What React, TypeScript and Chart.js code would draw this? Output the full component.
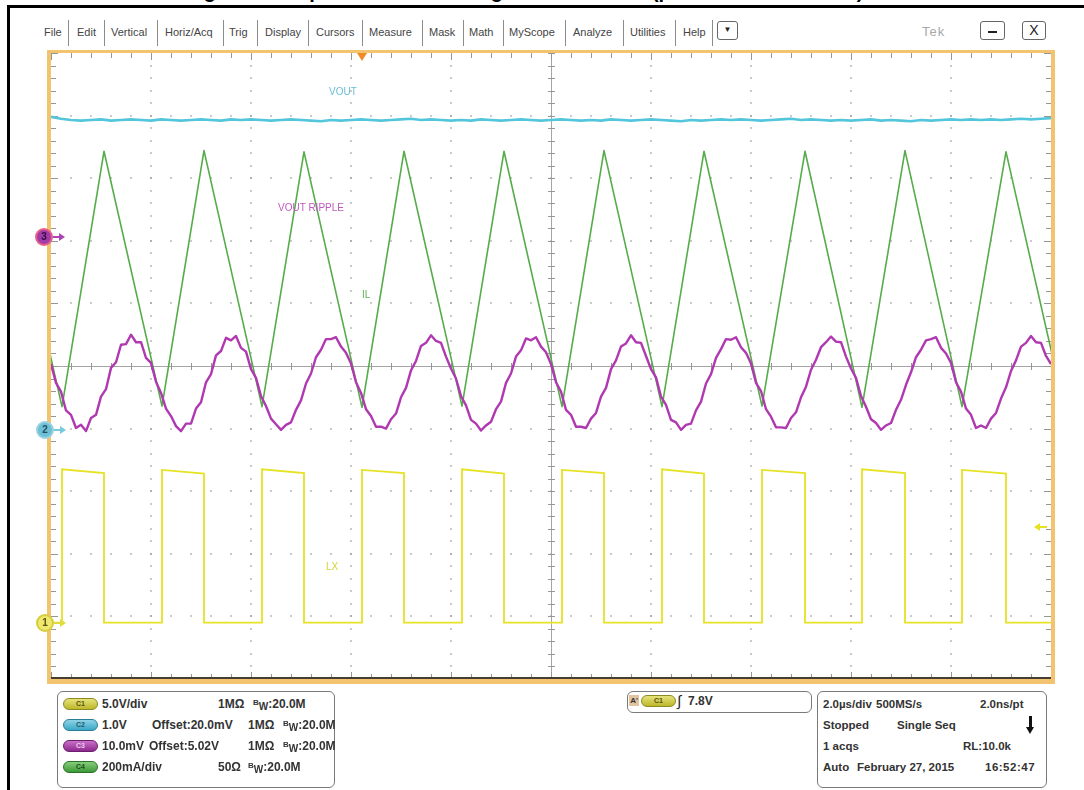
import React, { useEffect, useRef } from "react";
import { Chart, registerables } from "chart.js";

Chart.register(...registerables);

// ---------- axes (time in µs, 2 µs/div; vertical in graticule divisions) ----------
const TIME_MIN_US = -10;
const TIME_MAX_US = 10;
const DIV_MIN = -5;
const DIV_MAX = 5;

// ---------- IL (C4, 200 mA/div): triangle vertices ----------
const ilPeakTimes = [-10.94, -8.94, -6.94, -4.94, -2.94, -0.94, 1.06, 3.06, 5.08, 7.08, 9.1];
const ilPeakLevels = [3.43, 3.43, 3.44, 3.42, 3.43, 3.43, 3.44, 3.43, 3.43, 3.44, 3.42];
const ilValleyTimes = [-9.78, -7.78, -5.78, -3.78, -1.78, 0.22, 2.22, 4.22, 6.22, 8.22, 10.26];
const ilValleyLevels = [-0.65, -0.64, -0.65, -0.66, -0.64, -0.65, -0.65, -0.64, -0.66, -0.65, -0.65];

// ---------- LX (C1, 5 V/div): switching node edges ----------
const lxRiseTimes = [-9.78, -7.78, -5.78, -3.78, -1.78, 0.22, 2.22, 4.22, 6.22, 8.22];
const lxFallTimes = [-8.94, -6.94, -4.94, -2.94, -0.94, 1.06, 3.06, 5.08, 7.08, 9.1];
const lxHighStart = [-1.65, -1.66, -1.65, -1.66, -1.65, -1.66, -1.65, -1.66, -1.65, -1.66];
const lxHighEnd = [-1.71, -1.72, -1.71, -1.71, -1.72, -1.71, -1.72, -1.71, -1.71, -1.72];
const lxLowLevel = -4.1;

// ---------- VOUT (C2, 1.0 V/div): samples every 0.2 µs ----------
const VOUT_STEP_US = 0.2;
const vOutLevels = [
  3.98, 3.95, 3.93, 3.92, 3.93, 3.94, 3.92, 3.93, 3.94, 3.93,
  3.92, 3.94, 3.93, 3.92, 3.93, 3.94, 3.93, 3.92, 3.94, 3.93,
  3.94, 3.93, 3.92, 3.93, 3.94, 3.93, 3.92, 3.91, 3.93, 3.92,
  3.93, 3.94, 3.93, 3.92, 3.93, 3.94, 3.95, 3.93, 3.94, 3.93,
  3.92, 3.93, 3.92, 3.94, 3.93, 3.92, 3.93, 3.94, 3.93, 3.92,
  3.93, 3.94, 3.93, 3.92, 3.93, 3.92, 3.94, 3.93, 3.92, 3.93,
  3.94, 3.93, 3.92, 3.91, 3.93, 3.92, 3.93, 3.94, 3.93, 3.94,
  3.93, 3.92, 3.93, 3.94, 3.95, 3.93, 3.94, 3.93, 3.92, 3.93,
  3.92, 3.93, 3.94, 3.92, 3.93, 3.92, 3.91, 3.93, 3.92, 3.93,
  3.94, 3.93, 3.94, 3.93, 3.94, 3.93, 3.94, 3.95, 3.94, 3.95,
  3.96,
];

// ---------- VOUT RIPPLE (C3, 10 mV/div, offset 5.02 V): samples every 0.1 µs ----------
const RIPPLE_STEP_US = 0.1;
const rippleLevels = [
  0.03, -0.27, -0.41, -0.71, -0.78, -0.99, -0.94, -1.04, -0.83, -0.78, -0.49, -0.37, -0.03, 0.06, 0.34, 0.35, 0.5, 0.38, 0.38, 0.13,
  0.05, -0.25, -0.43, -0.68, -0.8, -0.96, -1.04, -0.92, -0.92, -0.68, -0.58, -0.26, -0.13, 0.17, 0.24, 0.45, 0.41, 0.48, 0.29, 0.23,
  -0.05, -0.19, -0.48, -0.64, -0.84, -0.93, -1.02, -0.94, -0.9, -0.7, -0.55, -0.28, -0.12, 0.14, 0.26, 0.43, 0.43, 0.46, 0.31, 0.21,
  0.04, -0.26, -0.43, -0.69, -0.8, -0.97, -0.97, -1.0, -0.85, -0.76, -0.5, -0.35, -0.07, 0.08, 0.32, 0.37, 0.49, 0.4, 0.37, 0.15,
  -0.04, -0.2, -0.48, -0.63, -0.86, -0.92, -1.03, -0.95, -0.89, -0.69, -0.57, -0.27, -0.12, 0.15, 0.25, 0.44, 0.41, 0.46, 0.31, 0.22,
  0.03, -0.26, -0.41, -0.7, -0.78, -0.97, -0.97, -0.99, -0.84, -0.75, -0.49, -0.35, -0.05, 0.09, 0.31, 0.36, 0.49, 0.38, 0.37, 0.16,
  -0.05, -0.18, -0.49, -0.62, -0.86, -0.9, -1.02, -0.94, -0.92, -0.71, -0.57, -0.28, -0.13, 0.13, 0.27, 0.43, 0.42, 0.46, 0.3, 0.21,
  0.04, -0.27, -0.4, -0.69, -0.81, -0.98, -0.98, -0.99, -0.83, -0.74, -0.5, -0.33, -0.06, 0.1, 0.3, 0.38, 0.47, 0.39, 0.38, 0.15,
  -0.04, -0.19, -0.48, -0.65, -0.85, -0.91, -1.02, -0.95, -0.91, -0.7, -0.54, -0.3, -0.1, 0.14, 0.26, 0.41, 0.43, 0.46, 0.29, 0.2,
  0.05, -0.26, -0.41, -0.68, -0.78, -0.99, -0.95, -0.99, -0.84, -0.75, -0.52, -0.34, -0.08, 0.09, 0.31, 0.37, 0.48, 0.38, 0.37, 0.16,
  0.03,
];

// ---------- text content ----------
const menuItems = ["File", "Edit", "Vertical", "Horiz/Acq", "Trig", "Display", "Cursors", "Measure", "Mask", "Math", "MyScope", "Analyze", "Utilities", "Help"];
const menuItemX = [44, 77, 111, 165, 229, 265, 316, 369, 429, 469, 509, 573, 630, 683];
const menuSeparatorX = [68, 104, 157, 223, 257, 308, 362, 422, 463, 503, 565, 623, 675, 712];

const channelRows = [
  { tag: "C1", a: "5.0V/div", b: "", c: "1MΩ", d: "20.0M", bx: 0, cx: 218, dx: 253 },
  { tag: "C2", a: "1.0V", b: "Offset:20.0mV", c: "1MΩ", d: "20.0M", bx: 152, cx: 248, dx: 283 },
  { tag: "C3", a: "10.0mV", b: "Offset:5.02V", c: "1MΩ", d: "20.0M", bx: 149, cx: 248, dx: 283 },
  { tag: "C4", a: "200mA/div", b: "", c: "50Ω", d: "20.0M", bx: 0, cx: 218, dx: 248 },
];

// ---------- colours ----------
const COL_C1 = "rgb(230,226,36)";
const COL_C2 = "rgb(84,198,220)";
const COL_C3 = "rgb(176,56,176)";
const COL_C4 = "rgb(86,172,74)";

const graticulePlugin = {
  id: "graticule",
  beforeDatasetsDraw(chart: any) {
    const { ctx, chartArea } = chart;
    const { left, top, right, bottom } = chartArea;
    const w = right - left;
    const h = bottom - top;
    const dx = w / 10;
    const dy = h / 10;
    const cx = left + w / 2;
    const cy = top + h / 2;
    ctx.save();
    ctx.fillStyle = "#ffffff";
    ctx.fillRect(left, top, w, h);
    // dotted graticule
    ctx.fillStyle = "rgba(150,150,150,0.5)";
    for (let i = 1; i < 10; i++) {
      if (i === 5) continue;
      const x = Math.round(left + i * dx);
      for (let k = 1; k < 50; k++) {
        const y = Math.round(top + (k * dy) / 5);
        ctx.fillRect(x - 1, y - 1, 2, 2);
      }
      const y0 = Math.round(top + i * dy);
      for (let k = 1; k < 50; k++) {
        const xx = Math.round(left + (k * dx) / 5);
        ctx.fillRect(xx - 1, y0 - 1, 2, 2);
      }
    }
    // center cross
    ctx.strokeStyle = "rgb(165,165,165)";
    ctx.lineWidth = 1;
    ctx.beginPath();
    ctx.moveTo(left, Math.round(cy) + 0.5);
    ctx.lineTo(right, Math.round(cy) + 0.5);
    ctx.moveTo(Math.round(cx) + 0.5, top);
    ctx.lineTo(Math.round(cx) + 0.5, bottom);
    ctx.stroke();
    ctx.strokeStyle = "rgb(150,150,150)";
    ctx.beginPath();
    for (let k = 0; k <= 50; k++) {
      const x = Math.round(left + (k * dx) / 5) + 0.5;
      const major = k % 5 === 0;
      ctx.moveTo(x, cy - 3);
      ctx.lineTo(x, cy + 4);
      ctx.moveTo(x, top);
      ctx.lineTo(x, top + (major ? 7 : 5));
      ctx.moveTo(x, bottom);
      ctx.lineTo(x, bottom - (major ? 7 : 5));
    }
    for (let k = 0; k <= 50; k++) {
      const y = Math.round(top + (k * dy) / 5) + 0.5;
      const major = k % 5 === 0;
      ctx.moveTo(cx - 3, y);
      ctx.lineTo(cx + 4, y);
      ctx.moveTo(left, y);
      ctx.lineTo(left + (major ? 7 : 5), y);
      ctx.moveTo(right, y);
      ctx.lineTo(right - (major ? 7 : 5), y);
    }
    ctx.stroke();
    // dark bottom edge
    ctx.fillStyle = "rgb(70,62,50)";
    ctx.fillRect(left, bottom - 2, w, 2);
    ctx.restore();
  },
};

function buildIl() {
  const pts: { x: number; y: number }[] = [];
  for (let i = 0; i < ilPeakTimes.length; i++) {
    pts.push({ x: ilPeakTimes[i], y: ilPeakLevels[i] });
    pts.push({ x: ilValleyTimes[i], y: ilValleyLevels[i] });
  }
  return pts;
}

function buildLx() {
  const pts: { x: number; y: number }[] = [{ x: TIME_MIN_US, y: lxLowLevel }];
  for (let i = 0; i < lxRiseTimes.length; i++) {
    pts.push({ x: lxRiseTimes[i], y: lxLowLevel });
    pts.push({ x: lxRiseTimes[i], y: lxHighStart[i] });
    pts.push({ x: lxFallTimes[i], y: lxHighEnd[i] });
    pts.push({ x: lxFallTimes[i], y: lxLowLevel });
  }
  pts.push({ x: TIME_MAX_US, y: lxLowLevel });
  return pts;
}

function buildSampled(levels: number[], step: number) {
  return levels.map((v, i) => ({ x: TIME_MIN_US + i * step, y: v }));
}

function ScopeCanvas() {
  const ref = useRef<HTMLCanvasElement | null>(null);
  useEffect(() => {
    const canvas = ref.current;
    if (!canvas) return;
    const common = { pointRadius: 0, tension: 0, fill: false, borderJoinStyle: "round" as const };
    const chart = new Chart(canvas, {
      type: "line",
      data: {
        datasets: [
          { label: "LX", data: buildLx(), borderColor: COL_C1, borderWidth: 1.8, order: 1, ...common, borderJoinStyle: "miter" as const },
          { label: "VOUT RIPPLE", data: buildSampled(rippleLevels, RIPPLE_STEP_US), borderColor: COL_C3, borderWidth: 2.4, order: 2, ...common },
          { label: "IL", data: buildIl(), borderColor: COL_C4, borderWidth: 1.6, order: 3, ...common },
          { label: "VOUT", data: buildSampled(vOutLevels, VOUT_STEP_US), borderColor: COL_C2, borderWidth: 2.6, order: 4, ...common },
        ],
      },
      options: {
        animation: false,
        responsive: false,
        maintainAspectRatio: false,
        devicePixelRatio: 1,
        layout: { padding: 0 },
        plugins: { legend: { display: false }, tooltip: { enabled: false } },
        events: [],
        scales: {
          x: { type: "linear", min: TIME_MIN_US, max: TIME_MAX_US, display: false },
          y: { type: "linear", min: DIV_MIN, max: DIV_MAX, display: false },
        },
      },
      plugins: [graticulePlugin],
    });
    return () => chart.destroy();
  }, []);
  return (
    <canvas
      ref={ref}
      width={1000}
      height={626}
      style={{ position: "absolute", left: 51, top: 53, width: 1000, height: 626 }}
    />
  );
}

const abs = (x: number, y: number, extra: React.CSSProperties = {}): React.CSSProperties => ({
  position: "absolute",
  left: x,
  top: y,
  ...extra,
});

function ChannelMarker({ n, x, y, fill, ring, text, arrow }: { n: string; x: number; y: number; fill: string; ring: string; text: string; arrow: string }) {
  return (
    <>
      <div
        style={abs(x - 9, y - 9, {
          width: 18,
          height: 18,
          borderRadius: "50%",
          background: fill,
          boxSizing: "border-box",
          border: `2px solid ${ring}`,
          color: text,
          fontSize: 10,
          fontWeight: "bold",
          lineHeight: "14px",
          textAlign: "center",
          zIndex: 3,
        })}
      >
        {n}
      </div>
      <div style={abs(x + 9, y - 1, { width: 7, height: 2, background: arrow, zIndex: 3 })} />
      <div
        style={abs(x + 15, y - 4, {
          width: 0,
          height: 0,
          borderTop: "4px solid transparent",
          borderBottom: "4px solid transparent",
          borderLeft: `6px solid ${arrow}`,
          zIndex: 3,
        })}
      />
    </>
  );
}

function Pill({ tag, x, y, bg, border, color }: { tag: string; x: number; y: number; bg: string; border: string; color: string }) {
  return (
    <div
      style={abs(x, y - 6, {
        width: 35,
        height: 12,
        boxSizing: "border-box",
        borderRadius: 6,
        background: bg,
        border: `1px solid ${border}`,
        color,
        fontSize: 7,
        fontWeight: "bold",
        lineHeight: "10px",
        textAlign: "center",
      })}
    >
      {tag}
    </div>
  );
}

const pillStyles: Record<string, { bg: string; border: string; color: string }> = {
  C1: { bg: "linear-gradient(#e6e27a,#bdb82a)", border: "#8d8a20", color: "#55520a" },
  C2: { bg: "linear-gradient(#8fd3e6,#3aa7c6)", border: "#2a7d96", color: "#1f5b6d" },
  C3: { bg: "linear-gradient(#c970c9,#8e2a8e)", border: "#6d1d6d", color: "#f0c8f0" },
  C4: { bg: "linear-gradient(#86cc7a,#3d9a38)", border: "#2c7329", color: "#1d4d1b" },
};

function Txt({ x, y, children, size = 12, bold = true, color = "#333", spacing = 0 }: { x: number; y: number; children: React.ReactNode; size?: number; bold?: boolean; color?: string; spacing?: number }) {
  return (
    <div
      style={abs(x, y - 7, {
        fontSize: size,
        fontWeight: bold ? "bold" : "normal",
        color,
        lineHeight: "14px",
        whiteSpace: "nowrap",
        letterSpacing: spacing,
      })}
    >
      {children}
    </div>
  );
}

function Bw({ value }: { value: string }) {
  return (
    <span>
      <span style={{ fontSize: 8, position: "relative", top: -3 }}>B</span>
      <span style={{ fontSize: 10, position: "relative", top: 2 }}>W</span>:{value}
    </span>
  );
}

export default function App() {
  const rowY = [704, 725, 746, 767];
  return (
    <div
      style={{
        position: "fixed",
        left: 0,
        top: 0,
        width: 1084,
        height: 790,
        background: "#ffffff",
        overflow: "hidden",
        fontFamily: "'Liberation Sans', Arial, sans-serif",
      }}
    >
      {/* clipped document caption above the frame */}
      <div style={abs(0, 0, { width: 1084, height: 5, overflow: "hidden" })}>
        <div style={abs(186, -20, { fontSize: 20, fontWeight: "bold", color: "#000", whiteSpace: "nowrap", lineHeight: "23px" })}>
          Figure 9. Output Waveform at High Load Current (pwm mode 1.5A load)
        </div>
      </div>
      {/* outer black frame */}
      <div style={abs(7, 5, { width: 1077, height: 3, background: "#000" })} />
      <div style={abs(7, 5, { width: 3, height: 785, background: "#000" })} />

      {/* menu bar */}
      {menuItems.map((m, i) => (
        <div key={m} style={abs(menuItemX[i], 25, { fontSize: 11, color: "#444", lineHeight: "14px", whiteSpace: "nowrap" })}>
          {m}
        </div>
      ))}
      {menuSeparatorX.map((x) => (
        <div key={x} style={abs(x, 20, { width: 1, height: 26, background: "#8c8c8c" })} />
      ))}
      <div
        style={abs(717, 21, {
          width: 21,
          height: 19,
          boxSizing: "border-box",
          border: "1.5px solid #666",
          borderRadius: 3,
          fontSize: 8,
          lineHeight: "16px",
          textAlign: "center",
          color: "#222",
        })}
      >
        ▼
      </div>
      <div style={abs(922, 25, { fontSize: 13, color: "#a8a8a8", lineHeight: "14px", letterSpacing: 1 })}>Tek</div>
      <div
        style={abs(980, 21, {
          width: 25,
          height: 19,
          boxSizing: "border-box",
          border: "1.5px solid #666",
          borderRadius: 3,
        })}
      >
        <div style={abs(7, 9, { width: 9, height: 2, background: "#222" })} />
      </div>
      <div
        style={abs(1022, 21, {
          width: 24,
          height: 19,
          boxSizing: "border-box",
          border: "1.5px solid #666",
          borderRadius: 3,
          fontSize: 14,
          lineHeight: "16px",
          textAlign: "center",
          color: "#222",
        })}
      >
        X
      </div>

      {/* orange frame around graticule */}
      <div style={abs(47, 50, { width: 1008, height: 634, background: "rgb(242,196,112)" })} />
      <ScopeCanvas />

      {/* trigger position marker */}
      <div
        style={abs(357, 53, {
          width: 0,
          height: 0,
          borderLeft: "5px solid transparent",
          borderRight: "5px solid transparent",
          borderTop: "8px solid rgb(238,140,40)",
        })}
      />
      {/* trigger level marker */}
      <div
        style={abs(1034, 523, {
          width: 0,
          height: 0,
          borderTop: "4px solid transparent",
          borderBottom: "4px solid transparent",
          borderRight: `6px solid ${COL_C1}`,
        })}
      />
      <div style={abs(1040, 526, { width: 7, height: 2, background: COL_C1 })} />

      {/* trace labels */}
      <div style={abs(329, 86, { fontSize: 10, color: "rgb(105,190,215)", lineHeight: "12px" })}>VOUT</div>
      <div style={abs(278, 202, { fontSize: 10, color: "rgb(190,90,190)", lineHeight: "12px" })}>VOUT RIPPLE</div>
      <div style={abs(362, 289, { fontSize: 10, color: "rgb(100,175,90)", lineHeight: "12px" })}>IL</div>
      <div style={abs(326, 561, { fontSize: 10, color: "rgb(215,210,60)", lineHeight: "12px" })}>LX</div>

      {/* channel ground markers */}
      <ChannelMarker n="3" x={44} y={237} fill="rgb(160,60,170)" ring="rgb(235,95,135)" text="#3a0a3a" arrow="rgb(170,70,180)" />
      <ChannelMarker n="2" x={45} y={430} fill="rgb(110,190,212)" ring="rgb(150,210,228)" text="#1d4f60" arrow="rgb(120,200,222)" />
      <ChannelMarker n="1" x={45} y={623} fill="rgb(238,232,110)" ring="rgb(215,205,60)" text="#5a5510" arrow="rgb(225,220,60)" />

      {/* channel settings box */}
      <div
        style={abs(57, 691, {
          width: 278,
          height: 97,
          boxSizing: "border-box",
          border: "1.5px solid #7a7a7a",
          borderRadius: 6,
        })}
      />
      {channelRows.map((r, i) => (
        <React.Fragment key={r.tag}>
          <Pill tag={r.tag} x={63} y={rowY[i]} {...pillStyles[r.tag]} />
          <Txt x={102} y={rowY[i]}>{r.a}</Txt>
          {r.b ? <Txt x={r.bx} y={rowY[i]}>{r.b}</Txt> : null}
          <Txt x={r.cx} y={rowY[i]}>{r.c}</Txt>
          <Txt x={r.dx} y={rowY[i]}>
            <Bw value={r.d} />
          </Txt>
        </React.Fragment>
      ))}

      {/* trigger box */}
      <div
        style={abs(627, 691, {
          width: 185,
          height: 22,
          boxSizing: "border-box",
          border: "1.5px solid #7a7a7a",
          borderRadius: 6,
        })}
      />
      <div
        style={abs(629, 695, {
          width: 10,
          height: 11,
          background: "rgb(226,196,160)",
          fontSize: 8,
          fontWeight: "bold",
          lineHeight: "11px",
          color: "#333",
          textAlign: "center",
        })}
      >
        A'
      </div>
      <Pill tag="C1" x={641} y={701} {...pillStyles.C1} />
      <div style={abs(677, 693, { fontSize: 15, color: "#222", lineHeight: "16px", fontStyle: "italic" })}>∫</div>
      <Txt x={688} y={701}>7.8V</Txt>

      {/* acquisition box */}
      <div
        style={abs(817, 691, {
          width: 230,
          height: 97,
          boxSizing: "border-box",
          border: "1.5px solid #7a7a7a",
          borderRadius: 6,
        })}
      />
      <Txt x={823} y={704} size={11.5}>2.0µs/div</Txt>
      <Txt x={876} y={704} size={11.5}>500MS/s</Txt>
      <Txt x={980} y={704} size={11.5}>2.0ns/pt</Txt>
      <Txt x={823} y={725} size={11.5}>Stopped</Txt>
      <Txt x={897} y={725} size={11.5}>Single Seq</Txt>
      <div style={abs(1029, 716, { width: 3, height: 12, background: "#111" })} />
      <div
        style={abs(1026, 727, {
          width: 0,
          height: 0,
          borderLeft: "4.5px solid transparent",
          borderRight: "4.5px solid transparent",
          borderTop: "7px solid #111",
        })}
      />
      <Txt x={823} y={746} size={11.5}>1 acqs</Txt>
      <Txt x={963} y={746} size={11.5}>RL:10.0k</Txt>
      <Txt x={823} y={767} size={11.5}>Auto</Txt>
      <Txt x={857} y={767} size={11.5}>February 27, 2015</Txt>
      <Txt x={985} y={767} size={11.5} spacing={0.5}>16:52:47</Txt>
    </div>
  );
}
